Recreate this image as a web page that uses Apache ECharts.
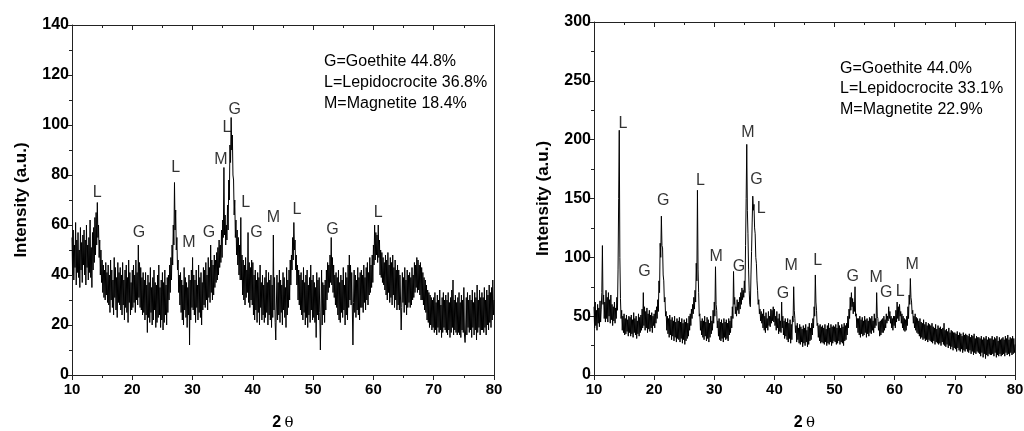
<!DOCTYPE html>
<html><head><meta charset="utf-8">
<script src="https://cdn.jsdelivr.net/npm/echarts@6/dist/echarts.min.js"></script>
<style>html,body{margin:0;background:#fff}#c{width:1024px;height:431px}</style>
</head><body><div id="c"></div>
<script>
// 2θ sampling of the traces
const thetaStart = 10;
const thetaStep = 0.1;

// Left pattern intensities (a.u.), one value per 0.1° from 10 to 80
const leftIntensity = [
 55,40,58,38,52,43,61,36,54,41,57,39,50,35,59,42,53,37,56,44,
 58,40,54,36,60,43,52,38,55,41,62,39,51,35,57,42,59,45,63,48,
 65,52,69,55,60,47,54,40,50,37,46,33,44,31,42,30,45,32,41,29,
 44,28,40,25,46,30,42,27,38,24,47,31,43,26,39,23,45,29,41,28,
 43,26,40,24,45,28,38,22,42,27,44,25,39,21,46,29,41,24,37,26,
 42,27,44,29,40,25,46,30,41,28,52,31,45,27,43,26,39,24,41,25,
 38,22,41,24,36,17,40,23,37,21,43,25,35,20,39,22,42,26,37,19,
 36,21,40,23,44,24,35,19,38,22,41,18,37,21,42,24,36,20,39,25,
 40,30,44,33,47,38,52,44,60,52,77,58,66,50,55,42,46,33,40,28,
 41,25,38,22,36,20,43,26,39,23,37,19,35,24,40,12,38,22,42,27,
 47,26,40,24,38,21,42,27,36,22,44,25,39,23,41,20,37,26,43,28,
 42,27,45,30,40,26,47,31,43,29,52,33,46,30,44,32,48,35,46,37,
 49,38,51,40,54,43,52,45,58,47,62,55,83,56,64,52,60,54,68,58,
 78,70,92,85,103,90,96,80,78,64,70,55,62,48,58,44,55,40,52,38,
 63,38,48,32,46,30,44,28,47,31,42,33,57,29,45,27,43,30,46,28,
 45,24,40,22,42,26,38,21,41,25,39,20,44,27,37,22,40,24,36,21,
 39,23,42,25,37,20,41,24,38,22,40,19,36,23,56,26,39,21,14,28,
 40,22,37,24,42,21,38,25,36,20,41,26,39,23,35,19,43,24,38,27,
 42,30,46,36,48,42,55,46,61,50,54,42,48,36,44,30,42,28,40,26,
 41,24,38,22,43,25,37,20,40,23,42,19,36,24,39,21,44,26,38,22,
 40,23,37,21,35,15,41,24,38,22,39,25,10,26,42,20,37,24,36,21,
 38,26,42,30,45,33,44,35,48,37,55,36,47,33,44,31,40,28,41,27,
 39,24,42,22,37,21,40,25,38,23,43,26,36,20,41,24,39,22,44,27,
 48,30,44,28,41,26,12,29,42,25,40,23,38,26,43,24,39,22,41,27,
 42,27,40,25,44,29,39,26,43,30,45,28,41,32,47,33,44,35,48,37,
 52,44,60,46,57,48,56,45,60,47,54,40,50,39,49,37,47,36,45,34,
 48,32,46,30,49,33,44,29,47,31,45,28,48,32,43,27,46,30,42,26,
 44,28,42,26,40,30,18,27,41,29,39,25,43,28,38,24,42,27,40,29,
 41,27,39,28,43,30,40,31,45,33,44,35,47,33,46,34,44,32,45,30,
 43,30,41,28,39,26,38,25,36,22,34,21,33,19,32,20,31,18,30,19,
 31,17,33,18,29,16,32,19,30,17,34,18,28,15,31,17,33,19,30,18,
 32,17,30,16,33,18,29,15,31,17,34,19,38,16,30,18,32,17,29,16,
 31,17,33,16,29,15,32,18,30,17,35,16,13,18,31,16,33,19,30,17,
 32,18,30,15,34,19,29,16,33,18,31,14,36,17,30,19,34,16,31,18,
 33,18,31,17,35,19,30,16,34,20,32,18,36,21,33,19,35,22,38,24,
 30
];

// Right pattern intensities (a.u.), one value per 0.1° from 10 to 80
const rightIntensity = [
 58,40,62,42,55,38,60,44,57,41,63,45,56,70,110,60,68,48,62,45,
 72,48,66,45,70,50,64,44,68,47,60,42,58,46,62,44,57,48,66,55,
 90,150,208,100,65,48,55,38,50,36,52,34,48,35,51,37,47,33,50,36,
 49,33,51,35,47,32,53,36,48,34,50,31,46,35,52,33,49,36,51,38,
 56,40,70,42,58,38,54,40,57,36,52,39,55,37,51,40,53,36,50,42,
 52,40,55,44,58,48,64,54,80,70,112,100,135,110,108,85,80,62,66,50,
 54,38,50,35,48,32,51,34,47,30,49,33,46,29,50,32,45,28,48,31,
 46,30,49,28,45,31,48,27,44,30,47,26,45,29,48,31,44,33,50,38,
 52,42,56,48,60,52,66,56,72,62,95,80,157,90,70,50,52,38,46,34,
 48,32,46,30,50,33,45,29,49,31,47,28,44,32,50,35,46,38,55,44,
 62,50,92,60,55,40,46,33,48,30,45,29,47,31,44,28,48,32,45,30,
 47,31,44,29,48,34,46,36,50,40,58,48,88,60,66,52,58,50,64,55,
 62,52,66,56,70,60,74,64,72,66,80,70,110,150,196,140,120,90,72,60,
 58,85,105,130,152,140,145,125,120,100,95,80,72,60,64,52,56,46,54,44,
 52,40,56,38,50,36,53,40,48,38,54,42,50,41,56,44,55,46,58,45,
 56,42,50,38,54,40,48,35,52,37,46,36,62,40,50,34,46,31,48,33,
 45,30,48,28,44,31,47,27,43,30,50,45,75,55,48,36,42,28,44,30,
 40,27,43,26,41,28,39,24,42,27,40,25,43,28,38,24,41,26,44,29,
 40,30,44,34,48,40,58,50,85,62,55,42,44,32,42,29,43,27,41,28,
 42,27,40,26,43,28,39,25,42,27,44,26,40,28,43,25,41,27,42,29,
 41,28,43,26,40,27,45,29,42,26,40,28,43,27,41,25,44,29,42,30,
 44,34,50,40,56,48,66,55,70,58,65,52,62,54,75,50,52,40,48,36,
 48,34,50,32,47,35,49,33,46,34,50,36,47,32,48,35,46,33,49,36,
 48,35,50,38,46,36,52,40,48,42,70,50,48,38,45,33,46,34,47,36,
 48,36,50,38,47,40,52,44,50,46,58,48,54,44,50,40,48,38,50,42,
 50,40,55,45,62,48,58,46,60,50,54,44,52,40,50,38,48,37,47,38,
 50,42,58,48,68,60,82,66,62,52,55,44,50,40,52,38,49,36,48,35,
 46,33,48,31,45,32,44,30,47,31,43,29,45,30,42,28,44,30,43,29,
 42,28,44,27,41,29,40,26,43,28,39,27,42,26,40,27,41,25,39,28,
 40,26,44,25,38,24,39,26,37,23,40,25,36,22,38,24,37,21,36,23,
 36,22,35,20,37,23,34,21,36,20,35,22,33,19,36,21,34,20,35,22,
 34,20,33,19,35,21,32,18,34,20,33,17,35,19,31,18,33,20,32,19,
 32,18,31,16,33,19,30,15,32,18,31,14,33,17,30,16,32,18,31,17,
 31,17,33,18,30,16,32,19,31,15,33,17,29,16,32,18,30,16,31,17,
 32,18,30,16,33,19,31,17,34,18,30,16,32,19,31,17,33,18,31,19,
 26
];

// Phase labels: [2θ, intensity, phase]
const leftPeaks = [
 [14.2,73,'L'],[21.1,57,'G'],[27.2,83,'L'],[29.4,53,'M'],[32.7,57,'G'],
 [34.7,86,'M'],[35.7,99,'L'],[37.0,106,'G'],[38.8,69,'L'],[40.6,57,'G'],
 [43.4,63,'M'],[47.3,66,'L'],[53.2,58,'G'],[60.8,65,'L']
];
const rightPeaks = [
 [14.8,214,'L'],[18.4,88,'G'],[21.5,148,'G'],[27.7,165,'L'],[30.3,101,'M'],
 [34.1,92,'G'],[35.6,206,'M'],[37.0,166,'G'],[37.8,141,'L'],[41.4,69,'G'],
 [42.8,93,'M'],[47.2,97,'L'],[53.0,84,'G'],[56.9,83,'M'],[58.6,70,'G'],
 [60.9,71,'L'],[62.9,94,'M']
];

const leftLegend = ['G=Goethite 44.8%','L=Lepidocrocite 36.8%','M=Magnetite 18.4%'];
const rightLegend = ['G=Goethite 44.0%','L=Lepidocrocite 33.1%','M=Magnetite 22.9%'];

const xMin = 10, xMax = 80, xInterval = 10;
const leftYMax = 140, leftYInterval = 20;
const rightYMax = 300, rightYInterval = 50;

const FONT = 'Liberation Sans, Arial, sans-serif';
const AX = '#222';

function toPairs(arr){ return arr.map((v,i)=>[+(thetaStart + i*thetaStep).toFixed(1), v]); }

function xAxes(g){
  return [
    {gridIndex:g, type:'value', min:xMin, max:xMax, interval:xInterval, position:'bottom',
     axisLine:{show:true,onZero:false,lineStyle:{color:AX,width:1}},
     axisTick:{show:true,length:5,lineStyle:{color:AX}},
     minorTick:{show:true,splitNumber:2,length:3,lineStyle:{color:AX}},
     splitLine:{show:false},
     axisLabel:{fontFamily:FONT,fontWeight:'bold',fontSize:15,color:'#000',margin:7},
     name:'{a|2} {b|θ}', nameLocation:'middle', nameGap:40,
     nameTextStyle:{rich:{a:{fontFamily:FONT,fontWeight:'bold',fontSize:16,color:'#000'},b:{fontFamily:'DejaVu Serif, serif',fontSize:15,color:'#000'}}}},
    {gridIndex:g, type:'value', min:xMin, max:xMax, interval:xInterval, position:'top',
     axisLine:{show:true,onZero:false,lineStyle:{color:AX,width:1}},
     axisTick:{show:true,inside:true,length:5,lineStyle:{color:AX}},
     minorTick:{show:true,splitNumber:2,length:3,lineStyle:{color:AX}},
     splitLine:{show:false}, axisLabel:{show:false}}
  ];
}
function yAxes(g,max,interval){
  return [
    {gridIndex:g, type:'value', min:0, max:max, interval:interval, position:'left',
     axisLine:{show:true,onZero:false,lineStyle:{color:AX,width:1}},
     axisTick:{show:true,length:6,lineStyle:{color:AX}},
     minorTick:{show:true,splitNumber:2,length:3,lineStyle:{color:AX}},
     splitLine:{show:false},
     axisLabel:{fontFamily:FONT,fontWeight:'bold',fontSize:16,color:'#000',margin:3},
     name:'Intensity (a.u.)', nameLocation:'middle', nameGap:42,
     nameTextStyle:{fontFamily:FONT,fontWeight:'bold',fontSize:17,color:'#000'}},
    {gridIndex:g, type:'value', min:0, max:max, interval:interval, position:'right',
     axisLine:{show:true,onZero:false,lineStyle:{color:AX,width:1}},
     axisTick:{show:false}, splitLine:{show:false}, axisLabel:{show:false}}
  ];
}
function lineSeries(idx,data){
  return {type:'line', xAxisIndex:idx*2, yAxisIndex:idx*2, data:toPairs(data), showSymbol:false,
    symbol:'none', sampling:null, lineStyle:{color:'#000',width:1}, silent:true, z:2};
}
function labelSeries(idx,peaks){
  return {type:'scatter', xAxisIndex:idx*2, yAxisIndex:idx*2, data:peaks, symbolSize:1,
    itemStyle:{color:'rgba(0,0,0,0)'}, silent:true, z:5,
    label:{show:true, position:'inside', formatter:p=>p.data[2], fontFamily:FONT, fontSize:16, color:'#000'}};
}
function legendText(x,y0,lines){
  return lines.map((t,i)=>({type:'text', x:x, y:y0+i*20.7,
    style:{text:t, fontFamily:FONT, fontSize:16, fill:'#000', verticalAlign:'middle', align:'left'}}));
}

const chart = echarts.init(document.getElementById('c'), null, {renderer:'canvas'});
chart.setOption({
  animation:false,
  backgroundColor:'#fff',
  grid:[
    {left:72, top:25, width:422, height:350, outerBoundsMode:'none', containLabel:false},
    {left:594, top:22, width:421, height:353, outerBoundsMode:'none', containLabel:false}
  ],
  xAxis:[...xAxes(0), ...xAxes(1)],
  yAxis:[...yAxes(0,leftYMax,leftYInterval), ...yAxes(1,rightYMax,rightYInterval)],
  series:[
    lineSeries(0,leftIntensity), labelSeries(0,leftPeaks),
    lineSeries(1,rightIntensity), labelSeries(1,rightPeaks)
  ],
  graphic:[...legendText(324,62,leftLegend), ...legendText(840,68.3,rightLegend)]
});
</script></body></html>
